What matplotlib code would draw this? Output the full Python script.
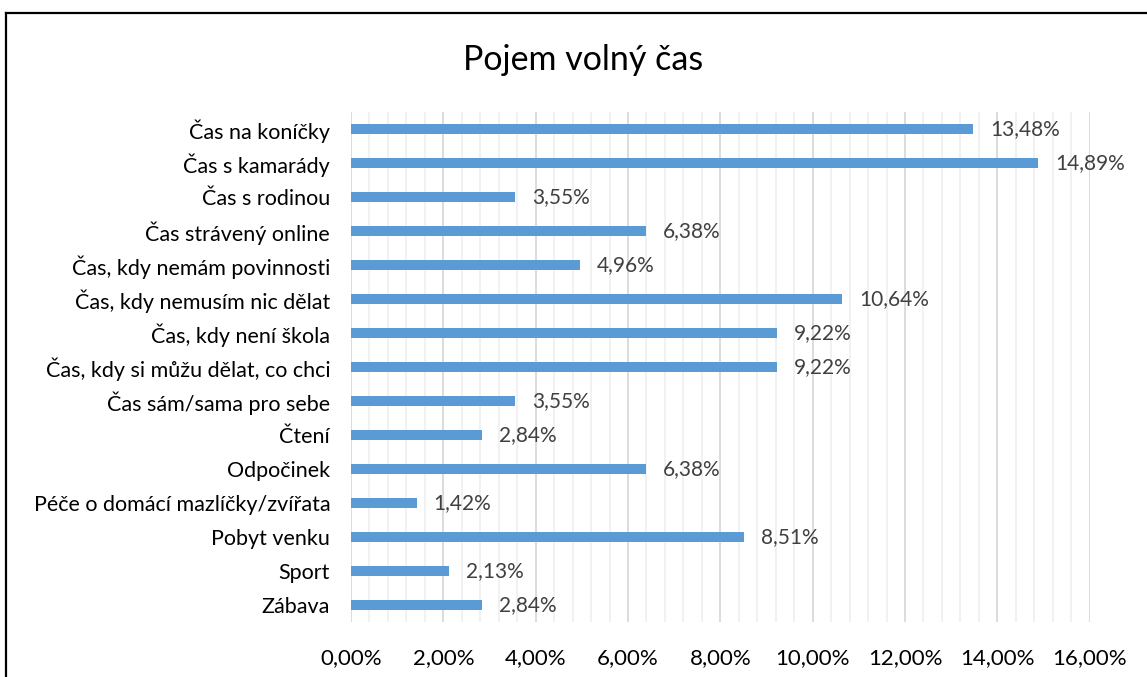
"""Horizontal bar chart: Pojem volný čas."""

import matplotlib

matplotlib.use("Agg")
import matplotlib.pyplot as plt
from matplotlib.lines import Line2D
from matplotlib.ticker import FuncFormatter, MultipleLocator

categories = [
    "Čas na koníčky",
    "Čas s kamarády",
    "Čas s rodinou",
    "Čas strávený online",
    "Čas, kdy nemám povinnosti",
    "Čas, kdy nemusím nic dělat",
    "Čas, kdy není škola",
    "Čas, kdy si můžu dělat, co chci",
    "Čas sám/sama pro sebe",
    "Čtení",
    "Odpočinek",
    "Péče o domácí mazlíčky/zvířata",
    "Pobyt venku",
    "Sport",
    "Zábava",
]
values = [13.48, 14.89, 3.55, 6.38, 4.96, 10.64, 9.22, 9.22, 3.55, 2.84, 6.38, 1.42, 8.51, 2.13, 2.84]
x_ticks = [0, 2, 4, 6, 8, 10, 12, 14, 16]

plt.rcParams["font.family"] = ["Lato", "DejaVu Sans"]

fig = plt.figure(figsize=(11.47, 6.77), dpi=100)
ax = fig.add_axes([0.306, 0.0812, 0.644, 0.7534])

positions = list(range(len(categories)))
ax.barh(positions, values, height=0.32, color="#5b9bd5", zorder=3)

for pos, val in zip(positions, values):
    ax.annotate(
        f"{val:.2f}%".replace(".", ","),
        xy=(val, pos),
        xytext=(17, 0),
        textcoords="offset pixels",
        ha="left",
        va="center",
        fontsize=15,
        color="#404040",
    )

ax.set_ylim(len(categories) - 0.5, -0.5)
ax.set_yticks(positions)
ax.set_yticklabels(categories, fontsize=15.5, color="#000000")
ax.set_xlim(0, 16)
ax.set_xticks(x_ticks)
ax.xaxis.set_major_formatter(FuncFormatter(lambda v, _: f"{v:.2f}%".replace(".", ",")))
ax.xaxis.set_minor_locator(MultipleLocator(0.4))
ax.tick_params(axis="x", labelsize=16, colors="#000000", length=0, pad=19, which="both")
ax.tick_params(axis="y", length=0, pad=15)

ax.grid(axis="x", which="major", color="#d9d9d9", linewidth=1.3, zorder=0)
ax.grid(axis="x", which="minor", color="#f0f0f0", linewidth=1.3, zorder=0)
for spine in ax.spines.values():
    spine.set_visible(False)

fig.text(0.508, 0.912, "Pojem volný čas", ha="center", va="center", fontsize=24.5, color="#000000")

# chart border (only left and top edges are visible in the crop)
fig.add_artist(Line2D([6 / 1147, 6 / 1147], [0, 1 - 13 / 677], transform=fig.transFigure, color="black", linewidth=1.6))
fig.add_artist(Line2D([6 / 1147, 1], [1 - 13 / 677, 1 - 13 / 677], transform=fig.transFigure, color="black", linewidth=1.6))

fig.savefig("out.png", dpi=100)
